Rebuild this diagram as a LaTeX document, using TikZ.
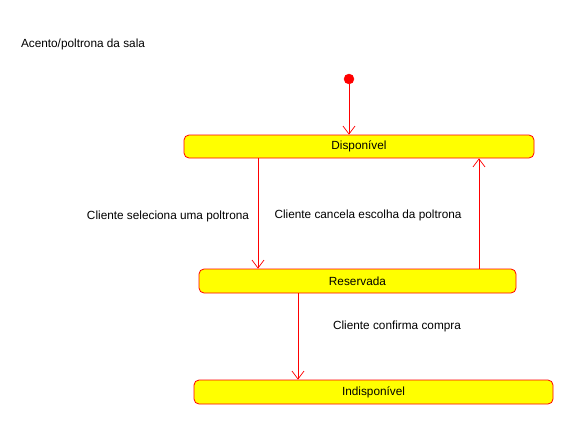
\documentclass[tikz,border=0pt]{standalone}
\usepackage{fontspec}
\setmainfont{Liberation Sans}
\usetikzlibrary{arrows.meta}
\definecolor{ylw}{RGB}{255,255,0}
\definecolor{rd}{RGB}{255,0,0}
\begin{document}
\begin{tikzpicture}[x=1pt,y=-1pt,
  state/.style={draw=rd, fill=ylw, rounded corners=5pt, line width=0.8pt, font=\fontsize{11.8}{14}\selectfont},
  trans/.style={draw=rd, line width=0.7pt, -{Straight Barb[length=8pt,width=12pt,line width=0.7pt]}},
  lbl/.style={font=\fontsize{11.8}{14}\selectfont, inner sep=0pt, anchor=center}]
\useasboundingbox (0,0) rectangle (585,444);
\node[lbl] (title) at (83,44) {Acento/poltrona da sala};
\node[circle, fill=rd, draw=rd, minimum size=10pt, inner sep=0pt] (init) at (349,79) {};
\node[state, minimum width=350pt, minimum height=23pt] (disp) at (359,146.5) {Disponível};
\node[state, minimum width=317pt, minimum height=24pt] (res) at (357.5,281) {Reservada};
\node[state, minimum width=359pt, minimum height=24pt] (ind) at (373.5,392) {Indisponível};
\draw[trans] (init) -- (disp.north -| init);
\coordinate (a1) at (258,0);
\coordinate (a2) at (479,0);
\coordinate (a3) at (298,0);
\draw[trans] (disp.south -| a1) -- (res.north -| a1);
\draw[trans] (res.north -| a2) -- (disp.south -| a2);
\draw[trans] (res.south -| a3) -- (ind.north -| a3);
\node[lbl] (l1) at (168,216) {Cliente seleciona uma poltrona};
\node[lbl] (l2) at (368,215) {Cliente cancela escolha da poltrona};
\node[lbl] (l3) at (397,326) {Cliente confirma compra};
\end{tikzpicture}
\end{document}
